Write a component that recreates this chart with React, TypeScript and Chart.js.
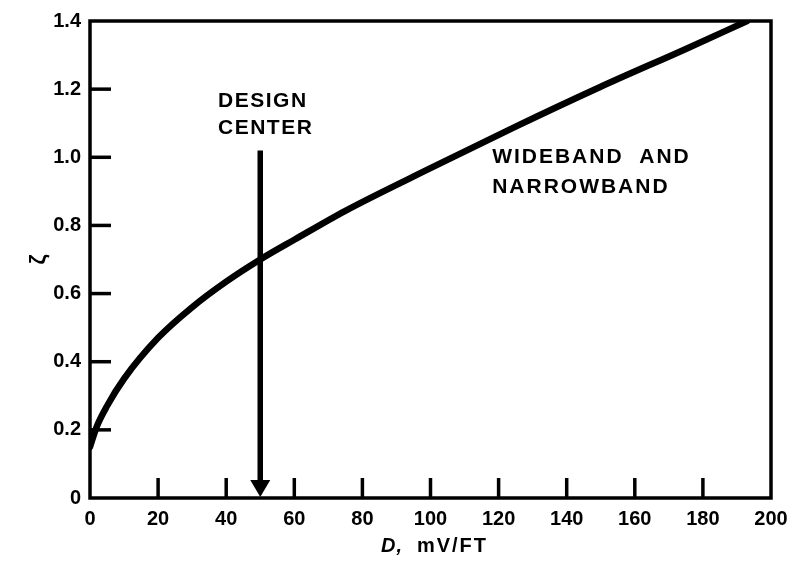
import React, { useEffect, useRef } from "react";
import { Chart, registerables } from "chart.js";

Chart.register(...registerables);

// ---- data ----
const dValues = [0, 2, 5, 10, 20, 30, 40, 50, 60, 75, 100, 125, 150, 175, 193];
const zetaValues = [0.15, 0.21, 0.27, 0.35, 0.47, 0.56, 0.635, 0.7, 0.758, 0.843, 0.968, 1.09, 1.207, 1.318, 1.4];
const xTickLabels = ["0", "20", "40", "60", "80", "100", "120", "140", "160", "180", "200"];
const yTickLabels = ["0", "0.2", "0.4", "0.6", "0.8", "1.0", "1.2", "1.4"];
const innerXTicks = [20, 40, 60, 80, 100, 120, 140, 160, 180];
const innerYTicks = [0.2, 0.4, 0.6, 0.8, 1.0, 1.2];
const designCenterD = 50;
const designArrowTop = 1.02;
const designLabel = ["DESIGN", "CENTER"];
const curveLabel = ["WIDEBAND  AND", "NARROWBAND"];
const xTitleItalic = "D,";
const xTitleRest = "mV/FT";
const yTitle = "ζ";

const FONT = "'Liberation Sans', Arial, Helvetica, sans-serif";

const decorPlugin = {
  id: "decor",
  afterDraw(chart: any) {
    const { ctx, chartArea } = chart;
    const xs = chart.scales.x;
    const ys = chart.scales.y;
    const { left, right, top, bottom } = chartArea;
    ctx.save();
    ctx.strokeStyle = "#000";
    ctx.fillStyle = "#000";
    ctx.lineCap = "butt";

    // frame
    ctx.lineWidth = 3.5;
    ctx.strokeRect(left, top, right - left, bottom - top);

    // inward tick marks
    ctx.lineWidth = 3.5;
    innerXTicks.forEach((v) => {
      const px = xs.getPixelForValue(v);
      ctx.beginPath();
      ctx.moveTo(px, bottom);
      ctx.lineTo(px, bottom - 20);
      ctx.stroke();
    });
    innerYTicks.forEach((v) => {
      const py = ys.getPixelForValue(v);
      ctx.beginPath();
      ctx.moveTo(left, py);
      ctx.lineTo(left + 21, py);
      ctx.stroke();
    });

    // design center arrow
    const ax = xs.getPixelForValue(designCenterD);
    const aTop = ys.getPixelForValue(designArrowTop);
    const aBot = ys.getPixelForValue(0);
    ctx.lineWidth = 5.5;
    ctx.beginPath();
    ctx.moveTo(ax, aTop);
    ctx.lineTo(ax, aBot - 14);
    ctx.stroke();
    ctx.beginPath();
    ctx.moveTo(ax - 10, aBot - 18);
    ctx.lineTo(ax + 10, aBot - 18);
    ctx.lineTo(ax, aBot - 1);
    ctx.closePath();
    ctx.fill();

    // annotation texts
    ctx.font = `bold 21px ${FONT}`;
    ctx.textAlign = "left";
    ctx.textBaseline = "middle";
    try { (ctx as any).letterSpacing = "1.5px"; } catch (e) {}
    const dcX = xs.getPixelForValue(37.6);
    ctx.fillText(designLabel[0], dcX, ys.getPixelForValue(1.165));
    ctx.fillText(designLabel[1], dcX, ys.getPixelForValue(1.084));
    const wbX = xs.getPixelForValue(118.1);
    try { (ctx as any).letterSpacing = "2px"; } catch (e) {}
    ctx.fillText(curveLabel[0], wbX, ys.getPixelForValue(0.999));
    ctx.fillText(curveLabel[1], wbX, ys.getPixelForValue(0.912));

    // x axis title with italic D
    ctx.font = `italic bold 20px ${FONT}`;
    try { (ctx as any).letterSpacing = "1px"; } catch (e) {}
    const w1 = ctx.measureText(xTitleItalic).width;
    ctx.font = `bold 20px ${FONT}`;
    try { (ctx as any).letterSpacing = "2px"; } catch (e) {}
    const w2 = ctx.measureText(xTitleRest).width;
    const gap = 14;
    const total = w1 + gap + w2;
    const cx = (left + right) / 2 + 4;
    const ty = bottom + 48;
    const sx = cx - total / 2;
    ctx.font = `italic bold 20px ${FONT}`;
    try { (ctx as any).letterSpacing = "1px"; } catch (e) {}
    ctx.fillText(xTitleItalic, sx, ty);
    ctx.font = `bold 20px ${FONT}`;
    try { (ctx as any).letterSpacing = "2px"; } catch (e) {}
    ctx.fillText(xTitleRest, sx + w1 + gap, ty);

    ctx.restore();
  },
};

export default function App() {
  const canvasRef = useRef<HTMLCanvasElement | null>(null);

  useEffect(() => {
    const canvas = canvasRef.current;
    if (!canvas) return;
    const points = dValues.map((d, i) => ({ x: d, y: zetaValues[i] }));
    const chart = new Chart(canvas, {
      type: "line",
      data: {
        datasets: [
          {
            data: points,
            borderColor: "#000",
            borderWidth: 6.5,
            pointRadius: 0,
            cubicInterpolationMode: "monotone",
            fill: false,
            borderCapStyle: "round",
          } as any,
        ],
      },
      options: {
        animation: false,
        responsive: false,
        maintainAspectRatio: false,
        layout: { padding: { top: 18, right: 33, left: 0, bottom: 0 } },
        plugins: { legend: { display: false }, tooltip: { enabled: false } },
        scales: {
          x: {
            type: "linear",
            min: 0,
            max: 200,
            grid: { display: false, drawTicks: false },
            border: { display: false },
            ticks: {
              stepSize: 20,
              autoSkip: false,
              maxRotation: 0,
              padding: 9,
              color: "#000",
              font: { family: FONT, size: 20, weight: "bold" },
              callback: (_v: any, i: number) => xTickLabels[i],
            },
            afterFit: (scale: any) => {
              scale.height = 64;
            },
          },
          y: {
            type: "linear",
            min: 0,
            max: 1.4,
            grid: { display: false, drawTicks: false },
            border: { display: false },
            title: {
              display: true,
              text: yTitle,
              color: "#000",
              font: { family: FONT, size: 22, weight: "bold" },
              padding: { top: 26, bottom: 0 },
            },
            ticks: {
              stepSize: 0.2,
              autoSkip: false,
              padding: 9,
              color: "#000",
              font: { family: FONT, size: 20, weight: "bold" },
              callback: (_v: any, i: number) => yTickLabels[i],
            },
            afterFit: (scale: any) => {
              scale.width = 90;
            },
          },
        },
      } as any,
      plugins: [decorPlugin],
    });
    return () => chart.destroy();
  }, []);

  return (
    <div style={{ position: "absolute", left: 0, top: 0, width: 804, height: 562, background: "#fff" }}>
      <canvas ref={canvasRef} width={804} height={562} style={{ display: "block" }} />
    </div>
  );
}
